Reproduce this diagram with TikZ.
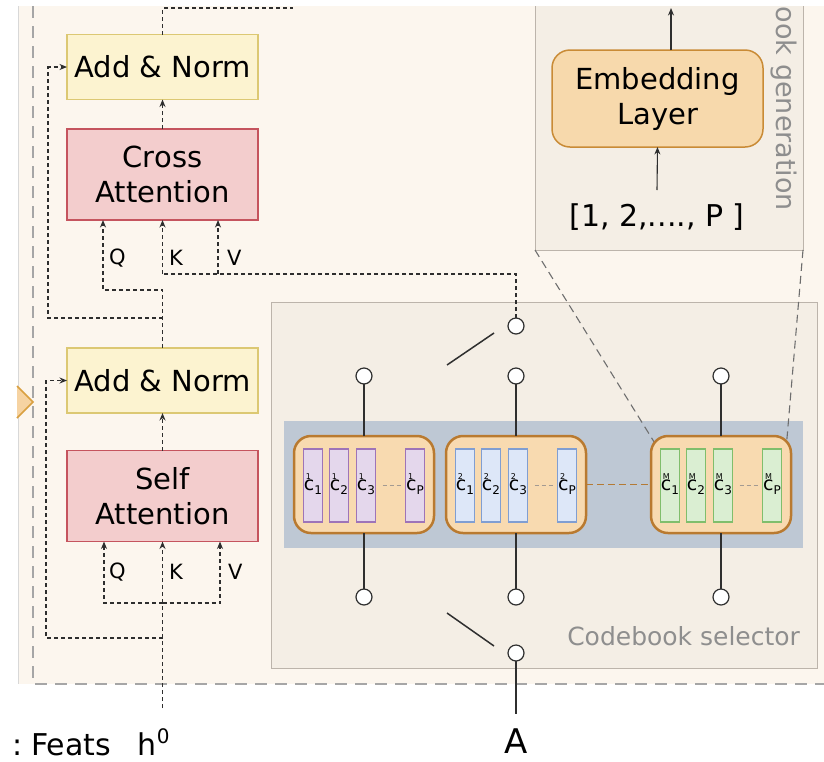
\documentclass[tikz,border=0pt]{standalone}
\usepackage{fontspec}
\setmainfont{DejaVu Sans}
\usetikzlibrary{arrows.meta}

\definecolor{cream}{HTML}{FCF6EE}
\definecolor{panelfill}{HTML}{F4EEE5}
\definecolor{paneledge}{HTML}{BCB4AB}
\definecolor{bandc}{HTML}{BEC8D4}
\definecolor{groupfill}{HTML}{F8DAB0}
\definecolor{groupedge}{HTML}{B97A30}
\definecolor{purplef}{HTML}{E4D7EC}
\definecolor{purpled}{HTML}{9E74B8}
\definecolor{bluef}{HTML}{DDE7F8}
\definecolor{blued}{HTML}{809ED2}
\definecolor{greenf}{HTML}{DAEED2}
\definecolor{greend}{HTML}{80BE6C}
\definecolor{normfill}{HTML}{FCF3D0}
\definecolor{normedge}{HTML}{DCC873}
\definecolor{attnfill}{HTML}{F3CDCD}
\definecolor{attnedge}{HTML}{C5545E}
\definecolor{embfill}{HTML}{F7D9AC}
\definecolor{embedge}{HTML}{C98B36}
\definecolor{trifill}{HTML}{F6D3A2}
\definecolor{triedge}{HTML}{D9A040}
\definecolor{flowc}{HTML}{2E2E2E}
\definecolor{portedge}{HTML}{2F2F2F}
\definecolor{guidec}{HTML}{6E6E6E}
\definecolor{bordergray}{HTML}{A6A6A6}
\definecolor{softtext}{HTML}{8E8E8E}
\definecolor{dotgray}{HTML}{A39A92}
\definecolor{linkbrown}{HTML}{B47A35}
\definecolor{edgegray}{HTML}{D8D8D8}

% codeword label: c with codebook index on top and entry index below
\newcommand{\cbk}[2]{%
  \fontsize{19}{19}\selectfont
  \makebox[0pt][l]{\raisebox{10.5pt}{\hspace{2pt}\fontsize{8}{8}\selectfont #1}}%
  c\raisebox{-4pt}{\fontsize{12}{12}\selectfont #2}}

\begin{document}
\begin{tikzpicture}[x=1pt,y=-1pt,
  every node/.style={inner sep=0pt, outer sep=0pt},
  big/.style={font=\fontsize{29}{35}\selectfont},
  normbox/.style={draw=normedge, fill=normfill, line width=1.4pt,
    minimum width=191pt, minimum height=65pt, big},
  attnbox/.style={draw=attnedge, fill=attnfill, line width=1.4pt,
    minimum width=191pt, minimum height=91pt, align=center, big},
  flow/.style={draw=flowc, line width=1.1pt, dash pattern=on 4pt off 3pt},
  flowtip/.style={-{Stealth[length=7.5pt,width=6pt]}},
  qkv/.style={font=\fontsize{21}{21}\selectfont, anchor=west},
  panel/.style={draw=paneledge, fill=panelfill, line width=1pt},
  group/.style={draw=groupedge, fill=groupfill, line width=2.5pt,
    rounded corners=17pt, minimum width=140pt, minimum height=97pt},
  bar/.style={line width=1.8pt, minimum width=19pt, minimum height=73pt},
  port/.style={circle, draw=portedge, fill=white, line width=1.2pt, minimum size=16pt},
  wire/.style={draw=portedge, line width=1.5pt},
  guide/.style={draw=guidec, line width=1.1pt, dash pattern=on 8pt off 5pt},
]
\useasboundingbox (0,0) rectangle (824,761);

% ---- backgrounds ----
\fill[cream] (18,6) rectangle (824,684);
\draw[edgegray, line width=0.8pt] (18,6) -- (18,684);
\draw[fill=trifill, draw=triedge, line width=1.5pt] (17,386) -- (33,402) -- (17,418);
\draw[bordergray, line width=2pt, dash pattern=on 12pt off 8pt] (33,6) -- (33,684) -- (824,684);

\node[panel, anchor=south west, minimum width=268pt, minimum height=270pt] (gen) at (535,250) {};
\node[panel, anchor=north west, minimum width=546pt, minimum height=366pt] (sel) at (271,302) {};
\node[fill=bandc, anchor=north west, minimum width=519pt, minimum height=127pt] (band) at (284,421) {};

% guides from the generation panel to the last codebook
\coordinate (gl) at (656,445);
\coordinate (gr) at (786.4,445);
\draw[guide] (gen.south west) -- (gl);
\draw[guide] (gen.south east) -- (gr);

% ---- codebook generation ----
\node[draw=embedge, fill=embfill, line width=1.5pt, rounded corners=18pt,
  minimum width=211pt, minimum height=97pt, align=center, big] (emb) at (657.5,98.5)
  {Embedding\\Layer};
\node[font=\fontsize{30}{30}\selectfont] (idx) at (657,217) {[1, 2,...., P ]};
\coordinate (embout) at (671,8);
\draw[flowc, line width=1.1pt, flowtip] (idx.north |- 0,190) -- (emb.south);
\draw[flowc, line width=1.1pt, flowtip] (emb.north -| embout) -- (embout);
\node[rotate=-90, anchor=east, text=softtext, font=\fontsize{27}{27}\selectfont]
  (gentitle) at (784,211) {ook generation};

% ---- codebooks ----
\foreach \g/\gx/\fc/\dc/\top in {1/364/purplef/purpled/1, 2/516/bluef/blued/2, 3/721/greenf/greend/M} {
  \node[group] (g\g) at (\gx,484.5) {};
  \foreach \i/\dx/\sub in {1/-51/1, 2/-25/2, 3/2/3, 4/51/P} {
    \node[bar, fill=\fc, draw=\dc] (b\g-\i) at (\gx+\dx,485.5) {};
  }
  \draw[dotgray, line width=1pt, dash pattern=on 4pt off 3pt]
    ([xshift=7pt]b\g-3.east) -- ([xshift=-3pt]b\g-4.west);
  \foreach \i/\dx/\sub in {1/-51/1, 2/-25/2, 3/2/3, 4/51/P} {
    \node[anchor=base] (c\g-\i) at (\gx+\dx,490) {\cbk{\top}{\sub}};
  }
}
\draw[linkbrown, line width=1.5pt, dash pattern=on 7pt off 4pt] (g2.east) -- (g3.west);

% ---- selector ports and switches ----
\foreach \g/\gx in {1/364, 2/516, 3/721} {
  \node[port] (t\g) at (\gx,376) {};
  \node[port] (d\g) at (\gx,597) {};
  \draw[wire] (t\g) -- (g\g);
  \draw[wire] (g\g) -- (d\g);
}
\node[port] (tsw) at (516,326) {};
\node[port] (dsw) at (516,653) {};
\coordinate (tl1) at (447,365); \coordinate (tl2) at (494,333);
\coordinate (dl1) at (447,613); \coordinate (dl2) at (494,646);
\draw[wire] (tl1) -- (tl2);
\draw[wire] (dl1) -- (dl2);
\node[anchor=base east, text=softtext, font=\fontsize{25}{25}\selectfont] (seltitle) at (800,645) {Codebook selector};
\node[font=\fontsize{34}{34}\selectfont, anchor=base] (alab) at (516,753) {A};
\draw[wire] (dsw) -- (alab.north) [shorten >=14pt];

% ---- decoder blocks ----
\node[normbox] (an2) at (162.5,67) {Add \& Norm};
\node[attnbox] (ca) at (162.5,174.5) {Cross\\Attention};
\node[normbox] (an1) at (162.5,380.5) {Add \& Norm};
\node[attnbox] (sa) at (162.5,496) {Self\\Attention};

% cross-attention inputs and residual
\draw[flow, flowtip] (ca.north) -- (an2.south);
\coordinate (topout) at (293,8);
\draw[flow] (an2.north) |- (topout);
\coordinate (qbend) at (103,290);
\coordinate (rbend) at (48,318);
\draw[flow, flowtip] (an1.north) |- (qbend) -- (qbend |- ca.south);
\draw[flow, flowtip] (an1.north |- rbend) -- (rbend) |- (an2.west);
\coordinate (kvbus) at (162.5,274);
\coordinate (vcol) at (218,274);
\draw[flow] (tsw.north) |- (kvbus);
\draw[flow, flowtip] (kvbus) -- (kvbus |- ca.south);
\draw[flow, flowtip] (vcol) -- (vcol |- ca.south);
\node[qkv] (cq) at (109,258) {Q};
\node[qkv] (ck) at (169,258) {K};
\node[qkv] (cv) at (227,258) {V};

% self-attention inputs and residual
\node[anchor=base west, font=\fontsize{30}{30}\selectfont] (feats) at (31,755)
  {Feats\hspace{27pt}h\raisebox{12pt}{\fontsize{20}{20}\selectfont 0}};
\node[anchor=base east, font=\fontsize{30}{30}\selectfont] (colon) at (23,755) {:};
\coordinate (feed) at (162.5,708);
\coordinate (qs) at (104,603);
\coordinate (vs) at (220,603);
\coordinate (rs) at (46,638);
\draw[flow, flowtip] (feed) -- (sa.south);
\draw[flow, flowtip] (qs -| sa.south) -- (qs) -- (qs |- sa.south);
\draw[flow, flowtip] (qs -| sa.south) -- (vs) -- (vs |- sa.south);
\draw[flow, flowtip] (rs -| sa.south) -- (rs) |- (an1.west);
\draw[flow, flowtip] (sa.north) -- (an1.south);
\node[qkv] (sq) at (109,572) {Q};
\node[qkv] (sk) at (169,572) {K};
\node[qkv] (sv) at (228,572) {V};

% top edge of the sheet
\fill[white] (0,0) rectangle (824,6);
\end{tikzpicture}
\end{document}
